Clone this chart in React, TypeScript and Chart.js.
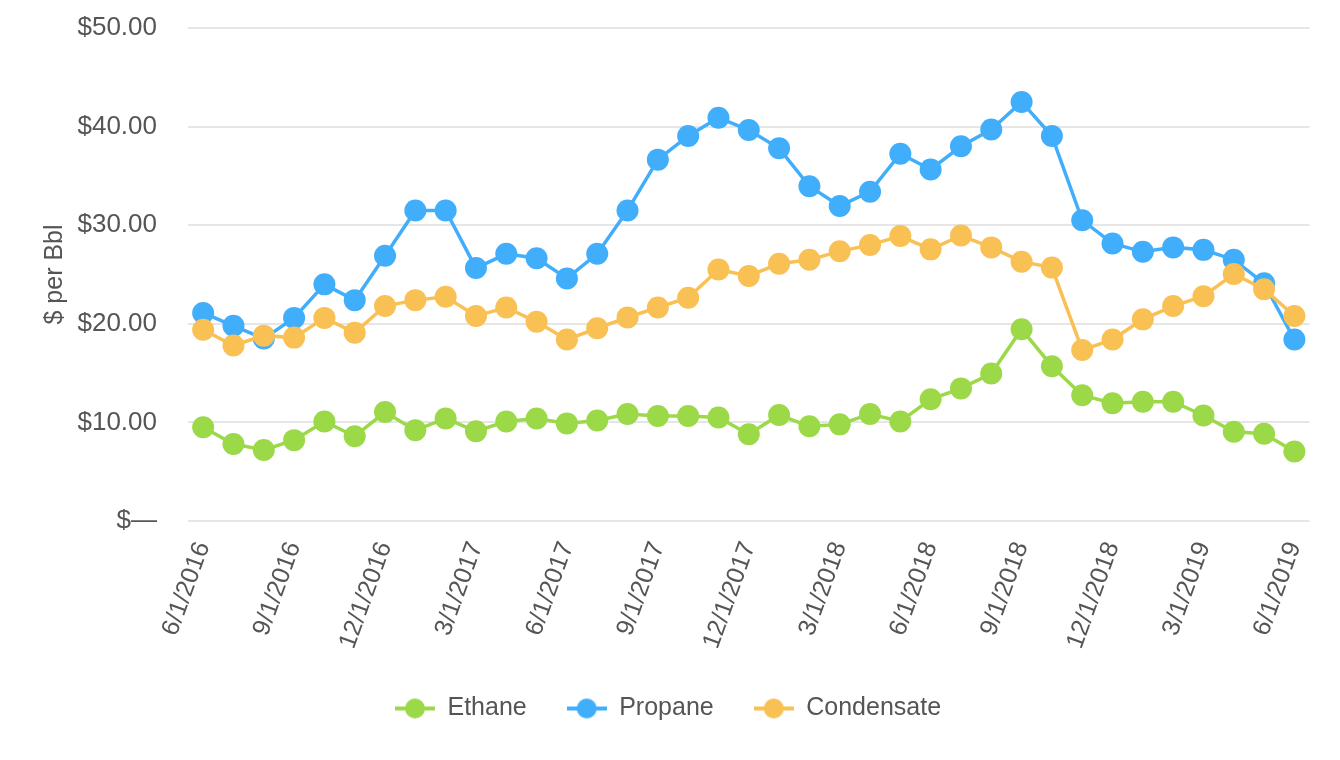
import React, { useEffect, useRef } from "react";
import { Chart, registerables } from "chart.js";

Chart.register(...registerables);

const categories = [
  "6/1/2016", "7/1/2016", "8/1/2016", "9/1/2016", "10/1/2016", "11/1/2016",
  "12/1/2016", "1/1/2017", "2/1/2017", "3/1/2017", "4/1/2017", "5/1/2017",
  "6/1/2017", "7/1/2017", "8/1/2017", "9/1/2017", "10/1/2017", "11/1/2017",
  "12/1/2017", "1/1/2018", "2/1/2018", "3/1/2018", "4/1/2018", "5/1/2018",
  "6/1/2018", "7/1/2018", "8/1/2018", "9/1/2018", "10/1/2018", "11/1/2018",
  "12/1/2018", "1/1/2019", "2/1/2019", "3/1/2019", "4/1/2019", "5/1/2019",
  "6/1/2019",
];

const ethane = [
  9.5, 7.8, 7.2, 8.2, 10.1, 8.6, 11.05, 9.2, 10.4, 9.1, 10.1, 10.4,
  9.9, 10.2, 10.85, 10.65, 10.65, 10.5, 8.8, 10.75, 9.6, 9.8, 10.85, 10.1,
  12.35, 13.45, 14.95, 19.45, 15.7, 12.75, 11.95, 12.1, 12.1, 10.7, 9.05, 8.85,
  7.05,
];

const propane = [
  21.1, 19.8, 18.5, 20.6, 24.0, 22.4, 26.9, 31.5, 31.5, 25.65, 27.1, 26.65,
  24.6, 27.1, 31.5, 36.65, 39.05, 40.9, 39.65, 37.8, 33.95, 31.95, 33.4, 37.25,
  35.65, 38.0, 39.7, 42.5, 39.05, 30.5, 28.15, 27.3, 27.75, 27.5, 26.5, 24.1,
  18.4,
];

const condensate = [
  19.4, 17.8, 18.8, 18.6, 20.6, 19.1, 21.8, 22.4, 22.75, 20.8, 21.65, 20.2,
  18.4, 19.55, 20.65, 21.65, 22.65, 25.5, 24.85, 26.1, 26.5, 27.35, 28.0, 28.9,
  27.55, 28.95, 27.75, 26.3, 25.7, 17.35, 18.4, 20.45, 21.8, 22.8, 25.05, 23.5,
  20.8,
];

const seriesNames = ["Ethane", "Propane", "Condensate"];
const seriesColors = ["#9bd948", "#41aefc", "#f9c054"];
const yTicks = [0, 10, 20, 30, 40, 50];

const FONT = "Liberation Sans, Arial, sans-serif";

function markerCanvas(color: string): HTMLCanvasElement {
  const c = document.createElement("canvas");
  c.width = 40;
  c.height = 22;
  const ctx = c.getContext("2d")!;
  ctx.strokeStyle = color;
  ctx.lineWidth = 4;
  ctx.beginPath();
  ctx.moveTo(0, 11);
  ctx.lineTo(40, 11);
  ctx.stroke();
  ctx.fillStyle = color;
  ctx.beginPath();
  ctx.arc(20, 11, 10, 0, Math.PI * 2);
  ctx.fill();
  return c;
}

export default function App() {
  const ref = useRef<HTMLCanvasElement>(null);

  useEffect(() => {
    document.body.style.margin = "0";
    const seriesData = [ethane, propane, condensate];
    const orders = [3, 2, 1];
    const chart = new Chart(ref.current!, {
      type: "line",
      data: {
        labels: categories,
        datasets: seriesNames.map((name, i) => ({
          label: name,
          data: seriesData[i],
          borderColor: seriesColors[i],
          backgroundColor: seriesColors[i],
          pointBackgroundColor: seriesColors[i],
          pointBorderColor: seriesColors[i],
          borderWidth: 3.5,
          pointRadius: 11,
          pointBorderWidth: 0,
          pointHoverRadius: 11,
          tension: 0,
          order: orders[i],
        })),
      },
      options: {
        animation: false,
        responsive: true,
        maintainAspectRatio: false,
        layout: { padding: { top: 28, right: 30, left: 26, bottom: 29 } },
        plugins: {
          tooltip: { enabled: false },
          legend: {
            position: "bottom",
            labels: {
              usePointStyle: true,
              pointStyleWidth: 40,
              padding: 40,
              color: "#555555",
              font: { family: FONT, size: 25 },
              generateLabels: () =>
                seriesNames.map((name, i) => ({
                  text: name,
                  fillStyle: seriesColors[i],
                  strokeStyle: seriesColors[i],
                  lineWidth: 0,
                  pointStyle: markerCanvas(seriesColors[i]) as any,
                  fontColor: "#555555",
                  hidden: false,
                  datasetIndex: i,
                })),
            },
          },
        },
        scales: {
          x: {
            offset: true,
            grid: { display: false, drawTicks: false },
            border: { display: false },
            afterFit: (scale: any) => {
              scale.height = 135;
            },
            ticks: {
              autoSkip: false,
              minRotation: 70,
              maxRotation: 70,
              padding: 17,
              color: "#555555",
              font: { family: FONT, size: 25 },
              callback: (_v: any, idx: number) => (idx % 3 === 0 ? categories[idx] : ""),
            },
          },
          y: {
            min: 0,
            max: 50,
            afterFit: (scale: any) => {
              scale.width = 162;
            },
            afterBuildTicks: (scale: any) => {
              scale.ticks = yTicks.map((v) => ({ value: v }));
            },
            grid: {
              color: "#e6e6e6",
              lineWidth: 2,
              drawTicks: true,
              tickLength: 19,
              tickColor: "rgba(0,0,0,0)",
            },
            border: { display: false },
            title: {
              display: true,
              text: "$ per Bbl",
              color: "#555555",
              padding: { top: 14, bottom: 4 },
              font: { family: FONT, size: 25 },
            },
            ticks: {
              padding: 12,
              color: "#555555",
              font: { family: FONT, size: 26 },
              callback: (v: any) => (Number(v) === 0 ? "$\u2014" : "$" + Number(v).toFixed(2)),
            },
          },
        },
      },
    });
    return () => chart.destroy();
  }, []);

  return (
    <div style={{ position: "relative", width: "1340px", height: "760px" }}>
      <canvas ref={ref} />
    </div>
  );
}
